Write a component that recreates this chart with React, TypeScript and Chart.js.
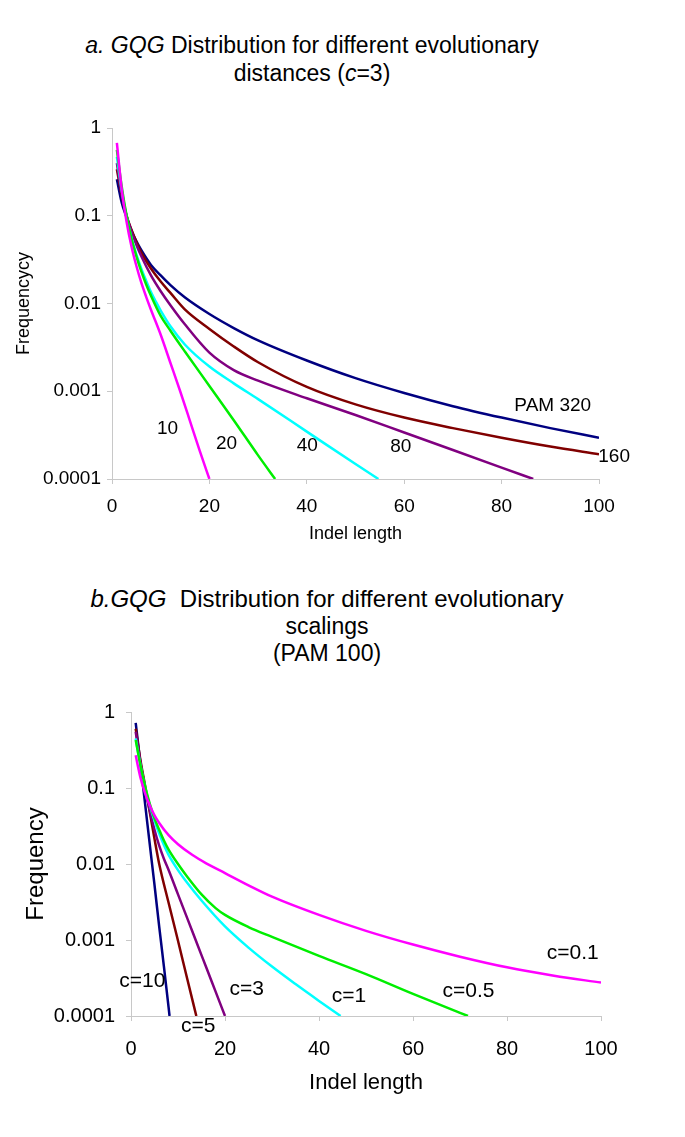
import React, { useEffect, useRef } from 'react';
import { Chart, registerables } from 'chart.js';

Chart.register(...registerables);

const FONT = "'Liberation Sans', Arial, Helvetica, sans-serif";

// ---------- shared axis values ----------
const xTickValues = [0, 20, 40, 60, 80, 100];
const yTickValues = [0.0001, 0.001, 0.01, 0.1, 1];
const yTickLabels = ['0.0001', '0.001', '0.01', '0.1', '1'];

// ---------- chart a: c = 3, different PAM distances ----------
const pam10X = [1, 2, 3, 4, 5, 6, 7, 8, 10, 12, 14, 16, 18, 20];
const pam10Y = [0.676, 0.2, 0.085, 0.0447, 0.0269, 0.0174, 0.012, 0.0085, 0.0044, 0.0021, 0.001, 0.00046, 0.00021, 0.0001];

const pam20X = [1, 2, 3, 4, 5, 6, 7, 8, 10, 12, 15, 20, 25, 30, 33.5];
const pam20Y = [0.562, 0.214, 0.1, 0.055, 0.0347, 0.0234, 0.0166, 0.0123, 0.00724, 0.0049, 0.00282, 0.00115, 0.000468, 0.000186, 0.0001];

const pam40X = [1, 2, 3, 4, 5, 6, 7, 8, 9, 10, 12, 15, 20, 25, 30, 40, 50, 54.7];
const pam40Y = [0.468, 0.195, 0.0977, 0.0562, 0.0363, 0.0251, 0.0182, 0.0135, 0.0105, 0.00832, 0.0055, 0.00339, 0.00191, 0.00123, 0.000813, 0.000347, 0.000148, 0.0001];

const pam80X = [1, 2, 3, 4, 5, 6, 8, 10, 12, 15, 20, 25, 30, 40, 50, 60, 70, 80, 86.5];
const pam80Y = [0.398, 0.174, 0.1, 0.0661, 0.0468, 0.0347, 0.0209, 0.0138, 0.00955, 0.00575, 0.00275, 0.00174, 0.00132, 0.000832, 0.000537, 0.000339, 0.000214, 0.000135, 0.0001];

const pam160X = [1, 2, 3, 4, 5, 6, 8, 10, 12, 15, 20, 25, 30, 40, 50, 60, 70, 80, 90, 100];
const pam160Y = [0.339, 0.17, 0.1, 0.0692, 0.0501, 0.038, 0.0251, 0.0178, 0.0132, 0.00851, 0.00513, 0.00324, 0.00214, 0.00112, 0.000708, 0.000501, 0.00038, 0.000295, 0.000234, 0.000191];

const pam320X = [1, 2, 3, 4, 5, 6, 8, 10, 12, 15, 20, 25, 30, 40, 50, 60, 70, 80, 90, 100];
const pam320Y = [0.26, 0.141, 0.0955, 0.0676, 0.0513, 0.0407, 0.0275, 0.0209, 0.0162, 0.0117, 0.00759, 0.00525, 0.0038, 0.00224, 0.00141, 0.000955, 0.000676, 0.000501, 0.00038, 0.000295];

const chartALabelText = ['10', '20', '40', '80', 'PAM 320', '160'];
const chartALabelX = [11.4, 23.5, 40.1, 59.3, 90.5, 103.1];
const chartALabelY = [0.00037, 0.000255, 0.00024, 0.000233, 0.00068, 0.000178];

// ---------- chart b: PAM 100, different scalings c ----------
const c10X = [1, 2, 3, 4, 5, 6, 7, 8, 8.2];
const c10Y = [0.72, 0.21, 0.062, 0.018, 0.0053, 0.0015, 0.00045, 0.00013, 0.0001];

const c5X = [1, 2, 3, 4, 5, 6, 8, 10, 12, 13.9];
const c5Y = [0.603, 0.234, 0.107, 0.0479, 0.0214, 0.01, 0.00309, 0.000977, 0.000302, 0.0001];

const c3X = [1, 2, 3, 4, 5, 6, 7, 8, 10, 12, 14, 16, 18, 20];
const c3Y = [0.55, 0.219, 0.1, 0.0501, 0.0282, 0.0174, 0.0117, 0.00832, 0.00398, 0.00191, 0.000912, 0.000437, 0.000209, 0.0001];

const c1X = [1, 2, 3, 4, 5, 6, 7, 8, 10, 12, 15, 20, 25, 30, 35, 40, 44.6];
const c1Y = [0.447, 0.2, 0.102, 0.0589, 0.0372, 0.0251, 0.0178, 0.0132, 0.00832, 0.00562, 0.00331, 0.00151, 0.000794, 0.000447, 0.000263, 0.000158, 0.0001];

const c05X = [1, 2, 3, 4, 5, 6, 7, 8, 10, 12, 15, 18, 20, 25, 30, 40, 50, 60, 70, 71.7];
const c05Y = [0.427, 0.2, 0.105, 0.0617, 0.0398, 0.0282, 0.0204, 0.0155, 0.01, 0.00676, 0.00398, 0.00263, 0.00214, 0.00148, 0.0011, 0.000617, 0.000355, 0.000195, 0.00011, 0.0001];

const c01X = [1, 2, 3, 4, 5, 6, 8, 10, 13, 16, 20, 25, 30, 40, 50, 60, 70, 80, 90, 100];
const c01Y = [0.269, 0.138, 0.0851, 0.0589, 0.0437, 0.0347, 0.024, 0.0182, 0.0132, 0.0102, 0.00759, 0.00525, 0.00372, 0.00214, 0.00132, 0.000871, 0.000603, 0.000437, 0.000339, 0.000275];

const chartBLabelText = ['c=0.1', 'c=0.5', 'c=1', 'c=3', 'c=10', 'c=5'];
const chartBLabelX = [94.0, 71.8, 46.4, 24.6, 2.4, 14.3];
const chartBLabelY = [0.00068, 0.000215, 0.000183, 0.000226, 0.000285, 0.000074];

const MAGENTA = '#ff00ff';
const GREEN = '#00ee00';
const CYAN = '#00ffff';
const PURPLE = '#800080';
const DARKRED = '#800000';
const NAVY = '#000080';

type Series = { xs: number[]; ys: number[]; color: string };

type Spec = {
  top: number;
  height: number;
  padTop: number;
  padRight: number;
  yAxisWidth: number;
  xAxisHeight: number;
  tickSize: number;
  yTickPad: number;
  xTickPad: number;
  xTitleSize: number;
  yTitleSize: number;
  xTitle: string;
  xTitlePad: number;
  yTitle: string;
  yTitlePad: number;
  labelSize: number;
  labelText: string[];
  labelX: number[];
  labelY: number[];
  lineWidth: number;
  series: Series[];
};

const specA: Spec = {
  top: 100,
  height: 470,
  padTop: 28,
  padRight: 86,
  yAxisWidth: 112,
  xAxisHeight: 91,
  tickSize: 19,
  yTickPad: 6,
  xTickPad: 11,
  xTitleSize: 18,
  yTitleSize: 18,
  xTitle: 'Indel length',
  xTitlePad: 25,
  yTitle: 'Frequencycy',
  yTitlePad: 13,
  labelSize: 19,
  labelText: chartALabelText,
  labelX: chartALabelX,
  labelY: chartALabelY,
  lineWidth: 2.5,
  series: [
    { xs: pam10X, ys: pam10Y, color: MAGENTA },
    { xs: pam20X, ys: pam20Y, color: GREEN },
    { xs: pam40X, ys: pam40Y, color: CYAN },
    { xs: pam80X, ys: pam80Y, color: PURPLE },
    { xs: pam160X, ys: pam160Y, color: DARKRED },
    { xs: pam320X, ys: pam320Y, color: NAVY },
  ],
};

const specB: Spec = {
  top: 680,
  height: 457,
  padTop: 32,
  padRight: 84,
  yAxisWidth: 131,
  xAxisHeight: 121,
  tickSize: 20,
  yTickPad: 11,
  xTickPad: 16,
  xTitleSize: 22,
  yTitleSize: 24,
  xTitle: 'Indel length',
  xTitlePad: 41,
  yTitle: 'Frequency',
  yTitlePad: 22,
  labelSize: 21,
  labelText: chartBLabelText,
  labelX: chartBLabelX,
  labelY: chartBLabelY,
  lineWidth: 2.5,
  series: [
    { xs: c01X, ys: c01Y, color: MAGENTA },
    { xs: c05X, ys: c05Y, color: GREEN },
    { xs: c1X, ys: c1Y, color: CYAN },
    { xs: c3X, ys: c3Y, color: PURPLE },
    { xs: c5X, ys: c5Y, color: DARKRED },
    { xs: c10X, ys: c10Y, color: NAVY },
  ],
};

const AXIS_GRAY = '#c8c8c8';

function buildConfig(spec: Spec): any {
  const tickFont = { family: FONT, size: spec.tickSize };
  const labelPlugin = {
    id: 'curveLabels',
    afterDatasetsDraw(chart: any) {
      const { ctx, scales } = chart;
      ctx.save();
      ctx.font = `${spec.labelSize}px ${FONT}`;
      ctx.fillStyle = '#000';
      ctx.textAlign = 'center';
      ctx.textBaseline = 'middle';
      spec.labelText.forEach((t, i) => {
        ctx.fillText(t, scales.x.getPixelForValue(spec.labelX[i]), scales.y.getPixelForValue(spec.labelY[i]));
      });
      ctx.restore();
    },
  };
  return {
    type: 'line',
    data: {
      datasets: spec.series.map((s) => ({
        data: s.xs.map((x, i) => ({ x, y: s.ys[i] })),
        borderColor: s.color,
        backgroundColor: s.color,
        borderWidth: spec.lineWidth,
        pointRadius: 0,
        fill: false,
        cubicInterpolationMode: 'monotone',
        clip: 0,
      })),
    },
    options: {
      responsive: false,
      animation: false,
      devicePixelRatio: 1,
      events: [],
      layout: { padding: { left: 0, top: spec.padTop, right: spec.padRight, bottom: 0 } },
      plugins: {
        legend: { display: false },
        tooltip: { enabled: false },
        title: { display: false },
      },
      scales: {
        x: {
          type: 'linear',
          min: 0,
          max: 100,
          afterBuildTicks: (s: any) => {
            s.ticks = xTickValues.map((v) => ({ value: v }));
          },
          afterFit: (s: any) => {
            s.height = spec.xAxisHeight;
          },
          ticks: { font: tickFont, color: '#000', padding: spec.xTickPad, maxRotation: 0, autoSkip: false },
          grid: { drawOnChartArea: false, drawTicks: true, tickLength: 5, color: AXIS_GRAY },
          border: { display: true, color: AXIS_GRAY, width: 1 },
          title: {
            display: true,
            text: spec.xTitle,
            font: { family: FONT, size: spec.xTitleSize },
            color: '#000',
            padding: { top: 0, bottom: spec.xTitlePad },
          },
        },
        y: {
          type: 'logarithmic',
          min: 0.0001,
          max: 1,
          afterBuildTicks: (s: any) => {
            s.ticks = yTickValues.map((v) => ({ value: v }));
          },
          afterFit: (s: any) => {
            s.width = spec.yAxisWidth;
          },
          ticks: {
            font: tickFont,
            color: '#000',
            padding: spec.yTickPad,
            autoSkip: false,
            callback: (_v: any, i: number) => yTickLabels[i],
          },
          grid: { drawOnChartArea: false, drawTicks: true, tickLength: 5, color: AXIS_GRAY },
          border: { display: true, color: AXIS_GRAY, width: 1 },
          title: {
            display: true,
            text: spec.yTitle,
            font: { family: FONT, size: spec.yTitleSize },
            color: '#000',
            padding: { top: spec.yTitlePad, bottom: 0 },
          },
        },
      },
    },
    plugins: [labelPlugin],
  };
}

function LogChart({ spec }: { spec: Spec }) {
  const ref = useRef<HTMLCanvasElement>(null);
  useEffect(() => {
    const chart = new Chart(ref.current as HTMLCanvasElement, buildConfig(spec));
    return () => chart.destroy();
  }, [spec]);
  return (
    <div style={{ position: 'absolute', left: 0, top: spec.top, width: 685, height: spec.height }}>
      <canvas ref={ref} width={685} height={spec.height} style={{ display: 'block', width: 685, height: spec.height }} />
    </div>
  );
}

const titleStyle: React.CSSProperties = {
  position: 'absolute',
  left: 0,
  textAlign: 'center',
  fontFamily: FONT,
  fontSize: 23,
  lineHeight: '28px',
  color: '#000',
  whiteSpace: 'nowrap',
};

export default function App() {
  return (
    <div style={{ position: 'absolute', left: 0, top: 0, width: 685, height: 1137, background: '#fff' }}>
      <div style={{ ...titleStyle, top: 31, width: 624 }}>
        <i>a. GQG</i> Distribution for different evolutionary
        <br />
        distances (<i>c</i>=3)
      </div>
      <LogChart spec={specA} />
      <div style={{ ...titleStyle, top: 585, width: 654, lineHeight: '27px' }}>
        <span style={{ fontSize: 24 }}>
          <i>b.GQG</i>&nbsp; Distribution for different evolutionary
        </span>
        <br />
        scalings
        <br />
        (PAM 100)
      </div>
      <LogChart spec={specB} />
    </div>
  );
}
